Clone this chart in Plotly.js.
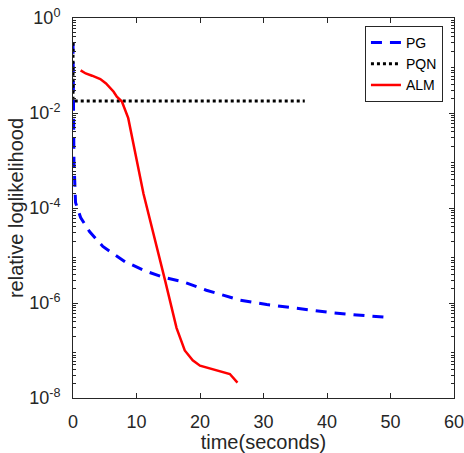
<!DOCTYPE html>
<html><head><meta charset="utf-8">
<script src="https://cdn.plot.ly/plotly-3.0.1.min.js"></script>
<style>body{margin:0;background:#fff}#c{width:464px;height:453px}</style>
</head><body><div id="c"></div>
<script>
const pgX = [0, 0.05, 0.15, 0.4, 1.2, 2.6, 4.7, 8.2, 11.6, 14.2, 17.3, 21, 26.3, 30.5, 34.6, 40.5, 44.7, 49.3];
const pgY = [0.3, 1e-2, 1e-3, 1.3e-4, 6.3e-5, 3.2e-5, 1.55e-5, 7.4e-6, 4.6e-6, 3.5e-6, 2.8e-6, 1.86e-6, 1.15e-6, 9.3e-7, 7.9e-7, 6.3e-7, 5.6e-7, 5.0e-7];
const pqnX = [0, 0, 36.5];
const pqnY = [0.3, 0.0178, 0.0178];
const almX = [1.2, 2.0, 3.0, 4.3, 5.2, 5.8, 6.4, 6.9, 7.7, 8.7, 11.1, 14.5, 16.3, 17.6, 18.85, 20, 24.7, 25.9];
const almY = [0.079, 0.068, 0.061, 0.052, 0.042, 0.035, 0.028, 0.022, 0.0174, 7.8e-3, 2.0e-4, 3.0e-6, 3.0e-7, 1.0e-7, 6.2e-8, 4.8e-8, 3.2e-8, 2.1e-8];
const xTicks = [0, 10, 20, 30, 40, 50, 60];
const yTicks = [1e0, 1e-2, 1e-4, 1e-6, 1e-8];
const yTickText = ['10<sup>0</sup>', '10<sup>-2</sup>', '10<sup>-4</sup>', '10<sup>-6</sup>', '10<sup>-8</sup>'];

const minorY = [];
for (let e = -8; e < 0; e++) for (let m = 2; m <= 9; m++) minorY.push(m * Math.pow(10, e));

const FAM = 'Liberation Sans, Arial, sans-serif';
const tickFont = {family: FAM, size: 18, color: '#262626'};
const titleFont = {family: FAM, size: 20, color: '#262626'};
const traces = [
  {x: pgX, y: pgY, name: 'PG', mode: 'lines', line: {color: '#0000ff', width: 3, dash: '11px,8px'}},
  {x: pqnX, y: pqnY, name: 'PQN', mode: 'lines', line: {color: '#000000', width: 3, dash: '3px,3px'}},
  {x: almX, y: almY, name: 'ALM', mode: 'lines', line: {color: '#ff0000', width: 2.5}}
];
const layout = {
  width: 464, height: 453,
  margin: {l: 73, r: 10, t: 18, b: 55},
  paper_bgcolor: '#fff', plot_bgcolor: '#fff',
  font: tickFont,
  showlegend: true,
  legend: {x: 0.971, y: 0.979, xanchor: 'right', yanchor: 'top', bgcolor: '#fff', bordercolor: '#262626', borderwidth: 1,
    font: {family: FAM, size: 14, color: '#000'}, tracegroupgap: 0, itemwidth: 30},
  xaxis: {
    range: [0, 60], tickmode: 'array', tickvals: xTicks, ticks: 'inside', ticklen: 5, tickcolor: '#262626',
    showline: true, linecolor: '#262626', linewidth: 1, mirror: 'ticks', showgrid: false, zeroline: false,
    tickfont: tickFont, ticklabelstandoff: 7, ticklabeloverflow: 'allow', automargin: false,
    title: {text: 'time(seconds)', font: titleFont, standoff: 0}
  },
  yaxis: {
    type: 'log', range: [-8, 0], tickmode: 'array', tickvals: yTicks, ticktext: yTickText,
    ticks: 'inside', ticklen: 5, tickcolor: '#262626',
    showline: true, linecolor: '#262626', linewidth: 1, mirror: 'ticks', showgrid: false, zeroline: false,
    tickfont: tickFont, ticklabelstandoff: 8, ticklabeloverflow: 'allow', automargin: false,
    minor: {tickmode: 'array', tickvals: minorY, ticks: 'inside', ticklen: 3, tickcolor: '#262626', showgrid: false},
    title: {text: 'relative loglikelihood', font: titleFont, standoff: 0}
  }
};
Plotly.newPlot('c', traces, layout, {displayModeBar: false, staticPlot: true});
</script></body></html>
